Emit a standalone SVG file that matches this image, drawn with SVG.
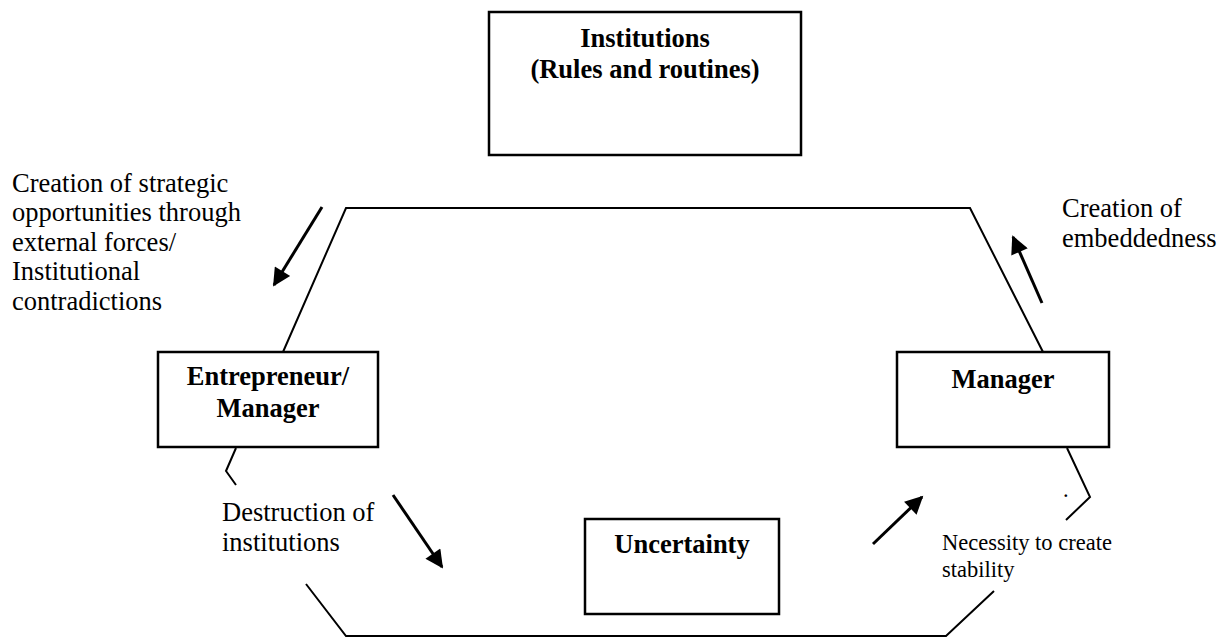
<svg xmlns="http://www.w3.org/2000/svg" width="1232" height="640" viewBox="0 0 1232 640">
  <defs>
    <marker id="head" viewBox="0 0 10 10" refX="9" refY="5" markerWidth="7" markerHeight="6" markerUnits="strokeWidth" orient="auto">
      <path d="M0,0 L10,5 L0,10 Z" fill="#000"/>
    </marker>
    <style>
      .box { fill: #fff; stroke: #000; stroke-width: 2.5; }
      .line { fill: none; stroke: #000; stroke-width: 2; }
      .arrow { fill: none; stroke: #000; stroke-width: 3; marker-end: url(#head); }
      .title { font-family: "Liberation Serif", "Times New Roman", serif; font-weight: bold; font-size: 26.5px; text-anchor: middle; fill: #000; }
      .label { font-family: "Liberation Serif", "Times New Roman", serif; font-size: 26.5px; fill: #000; }
      .small { font-family: "Liberation Serif", "Times New Roman", serif; font-size: 22.5px; fill: #000; }
    </style>
  </defs>

  <!-- cycle outline and connectors -->
  <g id="connectors">
    <polyline class="line" points="283,352 346,208 970,208 1043,352"/>
    <polyline class="line" points="236,448 226,471 236,485"/>
    <polyline class="line" points="1067,448 1090,497 1066,520"/>
    <polyline class="line" points="306,584 346,636 946,636 994,591"/>
    <line class="arrow" x1="322" y1="207" x2="274" y2="285"/>
    <line class="arrow" x1="1042" y1="303" x2="1013" y2="237"/>
    <line class="arrow" x1="393" y1="495" x2="442" y2="567"/>
    <line class="arrow" x1="873" y1="544" x2="922" y2="497"/>
  </g>

  <g id="institutions">
    <rect class="box" x="489" y="12" width="312" height="143"/>
    <text class="title" x="645" y="47">Institutions</text>
    <text class="title" x="645" y="78">(Rules and routines)</text>
  </g>

  <g id="entrepreneur">
    <rect class="box" x="158" y="352" width="220" height="95"/>
    <text class="title" x="268" y="385">Entrepreneur/</text>
    <text class="title" x="268" y="417">Manager</text>
  </g>

  <g id="manager">
    <rect class="box" x="897" y="352" width="212" height="95"/>
    <text class="title" x="1003" y="388">Manager</text>
  </g>

  <g id="uncertainty">
    <rect class="box" x="585" y="519" width="194" height="95"/>
    <text class="title" x="682" y="553">Uncertainty</text>
  </g>

  <g id="label-opportunities">
    <text class="label" x="12" y="192">Creation of strategic</text>
    <text class="label" x="12" y="221">opportunities through</text>
    <text class="label" x="12" y="251">external forces/</text>
    <text class="label" x="12" y="280">Institutional</text>
    <text class="label" x="12" y="310">contradictions</text>
  </g>

  <g id="label-embeddedness">
    <text class="label" x="1062" y="217">Creation of</text>
    <text class="label" x="1062" y="247">embeddedness</text>
  </g>

  <g id="label-destruction">
    <text class="label" x="222" y="521">Destruction of</text>
    <text class="label" x="222" y="551">institutions</text>
  </g>

  <g id="label-stability">
    <text class="small" x="1063" y="497">.</text>
    <text class="small" x="942" y="550">Necessity to create</text>
    <text class="small" x="942" y="577">stability</text>
  </g>
</svg>
